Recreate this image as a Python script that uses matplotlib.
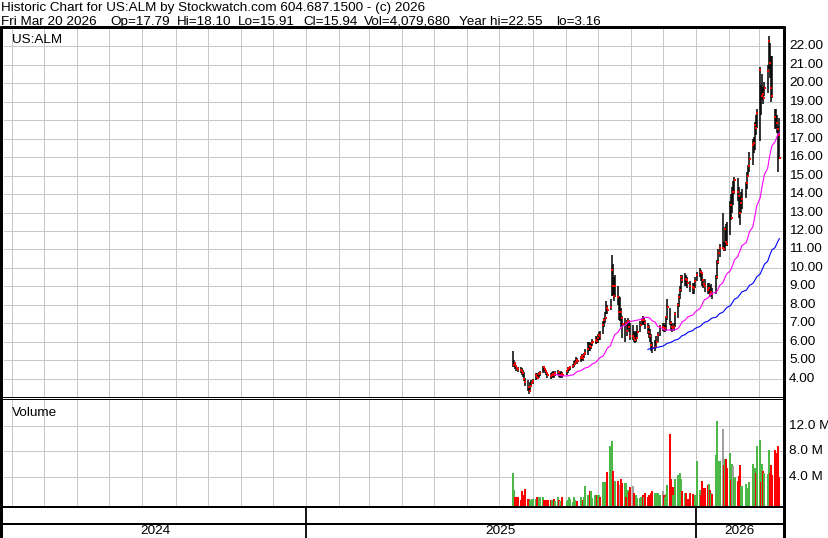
import numpy as np
import pandas as pd
import matplotlib
matplotlib.use("Agg")
import matplotlib.pyplot as plt
import matplotlib.dates as mdates
from matplotlib.lines import Line2D
from matplotlib.transforms import blended_transform_factory

# ---------------- data ----------------
symbol = "US:ALM"
title_line = "Historic Chart for US:ALM by Stockwatch.com 604.687.1500 - (c) 2026"
quote_items = ["Fri Mar 20 2026", "Op=17.79", "Hi=18.10", "Lo=15.91", "Cl=15.94",
               "Vol=4,079,680", "Year hi=22.55", "lo=3.16"]

first_day = "2025-07-14"
last_day = "2026-03-20"
holidays = ["2025-09-01", "2025-11-27", "2025-12-25", "2026-01-01", "2026-01-19", "2026-02-16"]

close = [
    4.74, 4.85, 4.70, 4.55, 4.50, 4.45, 4.40, 4.30, 4.00, 3.80, 3.55, 3.35, 3.60, 3.75,  # Jul
    3.85, 4.20, 4.10, 4.05, 4.25, 4.30, 4.60, 4.50, 4.40, 4.30, 4.20, 4.15, 4.20, 4.25,
    4.20, 4.30, 4.35, 4.20, 4.20, 4.25, 4.20,  # Aug
    4.40, 4.50, 4.55, 4.60, 4.70, 4.80, 4.90, 5.00, 4.95, 5.10, 5.20, 5.10, 5.30, 5.40,
    5.60, 5.75, 5.70, 5.90, 6.00, 6.10, 6.05,  # Sep
    6.20, 6.35, 6.30, 6.90, 7.15, 7.30, 7.80, 7.70, 7.90, 9.90, 9.00, 8.50, 9.00, 8.40,
    7.60, 7.60, 7.30, 6.95, 7.00, 6.60, 7.10, 6.80, 6.30,  # Oct
    6.30, 6.20, 6.10, 6.20, 6.50, 6.90, 7.20, 7.15, 7.20, 7.00, 6.80, 6.55, 6.30, 5.80,
    5.65, 5.70, 6.00, 6.35, 6.80,  # Nov
    6.80, 6.70, 6.75, 7.35, 7.90, 7.00, 6.80, 6.75, 6.80, 7.50, 8.00, 8.40, 8.80, 9.50,
    9.35, 9.40, 9.35, 9.20, 9.00, 8.95, 8.90, 9.30,  # Dec
    9.60, 9.80, 9.70, 9.35, 9.15, 9.00, 8.80, 8.90, 8.60, 8.70, 8.60, 9.50, 10.30, 10.80,
    11.10, 11.10, 11.00, 12.10, 11.40, 11.30,  # Jan
    13.40, 12.70, 14.10, 14.10, 14.75, 14.10, 13.90, 13.00, 13.50, 13.75, 14.60, 15.00,
    15.50, 15.90, 16.65, 16.75, 17.75, 17.60, 18.40,  # Feb
    20.75, 19.30, 19.40, 19.20, 19.75, 20.65, 22.30, 21.10, 19.75, 19.30, 18.20, 17.85,
    17.50, 17.20, 15.94,  # Mar
]
high = [
    5.52, 5.00, 4.90, 4.75, 4.65, 4.60, 4.55, 4.45, 4.35, 4.05, 3.90, 3.60, 3.80, 3.90,
    3.95, 4.30, 4.30, 4.20, 4.35, 4.40, 4.70, 4.70, 4.55, 4.45, 4.35, 4.30, 4.35, 4.40,
    4.35, 4.40, 4.45, 4.40, 4.35, 4.40, 4.35,
    4.45, 4.60, 4.65, 4.70, 4.80, 4.95, 5.00, 5.15, 5.10, 5.20, 5.35, 5.25, 5.40, 5.60,
    6.00, 6.00, 5.90, 6.00, 6.15, 6.30, 6.25,
    6.40, 6.50, 6.60, 7.10, 7.30, 7.60, 8.20, 8.00, 8.30, 10.70, 10.20, 9.50, 9.60, 9.00,
    8.50, 8.40, 7.80, 7.40, 7.30, 7.20, 7.30, 7.20, 7.00,
    6.90, 6.60, 6.50, 6.60, 6.90, 7.10, 7.30, 7.40, 7.30, 7.20, 7.00, 6.90, 6.70, 6.40,
    6.00, 6.10, 6.30, 6.50, 6.90,
    7.00, 7.00, 6.90, 7.40, 8.30, 7.80, 7.10, 7.00, 7.00, 7.60, 8.10, 8.60, 9.00, 9.60,
    9.60, 9.70, 9.60, 9.50, 9.30, 9.20, 9.20, 9.50,
    9.80, 10.00, 9.90, 9.70, 9.40, 9.40, 9.20, 9.20, 9.00, 9.10, 8.90, 9.60, 10.40, 11.00,
    11.30, 13.00, 11.40, 12.20, 12.40, 12.50,
    13.60, 14.00, 14.40, 14.70, 14.95, 14.85, 14.40, 13.90, 14.10, 14.30, 14.65, 15.20,
    15.60, 16.30, 17.00, 17.10, 17.90, 18.30, 18.60,
    20.90, 19.90, 20.50, 19.80, 20.10, 21.00, 22.55, 22.20, 21.50, 21.50, 18.60, 18.60,
    18.30, 17.70, 18.10,
]
low = [
    4.60, 4.60, 4.50, 4.40, 4.35, 4.30, 4.20, 4.10, 3.85, 3.60, 3.35, 3.16, 3.40, 3.55,
    3.70, 3.90, 4.00, 3.95, 4.05, 4.15, 4.30, 4.40, 4.30, 4.20, 4.05, 4.00, 4.05, 4.10,
    4.05, 4.15, 4.20, 4.10, 4.05, 4.10, 4.05,
    4.20, 4.30, 4.40, 4.45, 4.55, 4.65, 4.75, 4.85, 4.80, 4.90, 5.00, 4.95, 5.10, 5.25,
    5.30, 5.50, 5.50, 5.60, 5.75, 5.85, 5.90,
    5.90, 6.10, 6.10, 6.40, 6.80, 7.00, 7.50, 7.50, 7.70, 8.50, 8.50, 8.20, 8.40, 8.00,
    7.20, 7.10, 6.80, 6.20, 6.00, 6.30, 6.70, 6.50, 6.10,
    6.10, 6.00, 5.90, 6.00, 6.20, 6.50, 6.90, 6.90, 6.90, 6.70, 6.40, 6.20, 6.00, 5.50,
    5.40, 5.50, 5.70, 6.00, 6.30,
    6.60, 6.50, 6.50, 6.60, 7.20, 6.90, 6.60, 6.50, 6.60, 6.80, 7.30, 7.90, 8.30, 8.70,
    9.20, 9.00, 9.00, 8.90, 8.70, 8.60, 8.60, 8.90,
    9.30, 9.50, 9.30, 9.00, 8.90, 8.70, 8.60, 8.60, 8.40, 8.50, 8.30, 8.60, 9.40, 10.20,
    10.60, 11.00, 10.90, 10.90, 11.20, 11.20,
    11.80, 12.60, 13.00, 13.40, 14.00, 13.60, 12.70, 12.30, 13.00, 13.20, 13.80, 14.30,
    14.90, 15.20, 15.60, 16.20, 16.40, 17.20, 17.60,
    16.90, 18.30, 19.10, 18.90, 19.30, 19.50, 20.80, 20.30, 19.00, 19.20, 17.50, 17.60,
    17.30, 15.20, 15.91,
]
volume_m = [
    4.7, 2.1, 1.0, 0.65, 0.9, 0.45, 1.8, 1.3, 1.2, 2.2, 0.6, 0.65, 0.55, 0.55,
    0.7, 0.65, 1.0, 0.45, 0.9, 1.0, 0.9, 0.45, 0.1, 0.55, 0.45, 0.55, 0.45, 0.1, 0.65,
    0.3, 1.0, 0.55, 0.35, 0.25, 1.0,
    0.35, 0.55, 1.0, 0.65, 0.1, 1.0, 0.55, 0.35, 0.25, 1.0, 0.35, 0.55, 1.0, 2.7, 1.2,
    0.75, 1.8, 1.8, 0.75, 1.2, 1.2,
    1.2, 1.2, 1.0, 3.3, 2.4, 3.3, 2.5, 4.8, 8.8, 9.7, 4.9, 2.8, 3.5, 3.5, 0.9, 2.8, 3.7,
    3.1, 3.1, 1.0, 2.1, 1.7, 2.5,
    2.7, 1.5, 0.9, 1.2, 0.8, 0.8, 1.0, 1.2, 1.0, 1.6, 1.0, 1.3, 1.0, 1.5, 1.9, 1.5, 1.5,
    1.5, 1.2,
    1.9, 1.2, 1.0, 1.4, 2.8, 10.7, 3.7, 2.5, 1.2, 3.7, 4.3, 4.3, 4.6, 3.7, 1.9, 1.5, 1.5,
    0.7, 1.6, 1.4, 0.9, 1.2,
    6.5, 2.1, 1.2, 3.4, 2.4, 2.4, 2.8, 3.0, 2.1, 1.6, 1.4, 7.4, 12.8, 4.8, 6.6, 11.5, 5.9,
    6.9, 6.9, 5.4,
    7.7, 3.6, 6.0, 5.7, 4.1, 3.5, 4.2, 5.9, 2.6, 2.7, 3.0, 1.8, 2.3, 3.2, 6.0, 2.8, 5.5,
    4.6, 8.8,
    9.8, 3.2, 6.1, 5.0, 4.7, 4.5, 8.3, 4.7, 5.9, 4.4, 8.3, 7.8, 4.7, 8.8, 4.08,
]

price_ticks = list(range(4, 23))
volume_ticks = [4, 8, 12]
ma_short, ma_long = 30, 90
view_start, view_end = "2024-03-24 10:00", "2026-03-23 10:00"

# ---------------- figure ----------------
W, H = 829, 538
DPI = 100
FONT = "Liberation Sans"
FS = 9.7
GRID = "#c8c8c8"
GREEN = "#4cb848"
RED = "#ff0000"

dates = pd.bdate_range(first_day, last_day, freq="C", holidays=holidays)
n = min(len(dates), len(close))
dates = dates[:n]
xd = mdates.date2num(dates.to_pydatetime())
c = np.array(close[:n]); hi = np.array(high[:n]); lo = np.array(low[:n])
vol = np.array(volume_m[:n])

fig = plt.figure(figsize=(W / DPI, H / DPI), dpi=DPI)
fig.patch.set_facecolor("white")

def fx(px):
    return px / W

def fy(py):
    return 1 - py / H

L, R = 4, 783
ax_p = fig.add_axes([fx(L), fy(397), fx(R) - fx(L), fy(28) - fy(397)])
ax_v = fig.add_axes([fx(L), fy(506), fx(R) - fx(L), fy(400) - fy(506)])
ax_d = fig.add_axes([fx(L), fy(538), fx(R) - fx(L), fy(507) - fy(538)])

x0 = mdates.date2num(pd.Timestamp(view_start).to_pydatetime())
x1 = mdates.date2num(pd.Timestamp(view_end).to_pydatetime())
months = pd.date_range("2024-04-01", "2026-03-01", freq="MS")
mx = mdates.date2num(months.to_pydatetime())

for ax in (ax_p, ax_v, ax_d):
    ax.set_xlim(x0, x1)
    for s in ax.spines.values():
        s.set_visible(False)
    ax.tick_params(length=0, labelleft=False, labelbottom=False)
    ax.set_facecolor("white")
    ax.patch.set_alpha(0)

for ax in (ax_p, ax_v):
    ax.set_axisbelow(True)
    ax.set_xticks(mx)
    ax.grid(True, color=GRID, linewidth=1.0 * 72 / DPI)

ax_d.set_xticks([])
ax_d.set_yticks([])
ax_d.set_ylim(0, 1)

# price panel
ax_p.set_ylim(3, 23)
ax_p.set_yticks(price_ticks)
ax_p.vlines(xd, lo, hi, colors="black", linewidth=1.1)
ax_p.plot(xd + 0.35, c, linestyle="none", marker="s", markersize=1.8,
          markerfacecolor=RED, markeredgewidth=0)
cs = pd.Series(c)
ma1 = cs.rolling(ma_short).mean().values
ma2 = cs.rolling(ma_long).mean().values
ax_p.plot(xd, ma1, color="#ff00ff", linewidth=0.8)
ax_p.plot(xd, ma2, color="#0000ff", linewidth=0.8)

tr_p = blended_transform_factory(ax_p.transAxes, ax_p.transData)
lab_x = 1 + 6 / (R - L)
for t in price_ticks:
    ax_p.text(lab_x, t, f"{t:.2f}", transform=tr_p, va="center", ha="left",
              fontsize=FS, family=FONT, color="black", clip_on=False)
ax_p.text(8 / (R - L), 1 - 15 / 369, symbol, transform=ax_p.transAxes, va="baseline",
          ha="left", fontsize=FS, family=FONT, color="black")

# volume panel
vmin, vmax = -0.45, 15.98
ax_v.set_ylim(vmin, vmax)
ax_v.set_yticks(volume_ticks)
prev = np.concatenate([[c[0] - 1], c[:-1]])
colors = np.where(c > prev, GREEN, np.where(c < prev, RED, "#a0a0a0"))
ax_v.bar(xd, vol - vmin, bottom=vmin, width=2.0, color=colors, linewidth=0)
tr_v = blended_transform_factory(ax_v.transAxes, ax_v.transData)
for t in volume_ticks:
    ax_v.text(lab_x, t, f"{t:.1f} M", transform=tr_v, va="center", ha="left",
              fontsize=FS, family=FONT, color="black", clip_on=False)
ax_v.text(8 / (R - L), 1 - 16 / 106, "Volume", transform=ax_v.transAxes, va="baseline",
          ha="left", fontsize=FS, family=FONT, color="black")

# date strip: year separators and labels
years = [2024, 2025, 2026]
tr_d = blended_transform_factory(ax_d.transData, ax_d.transAxes)
for y in years[1:]:
    yx = mdates.date2num(pd.Timestamp(f"{y}-01-01").to_pydatetime())
    ax_d.plot([yx, yx], [0, 1], color="black", linewidth=1.3, transform=tr_d, clip_on=False)
for y in years:
    a = max(x0, mdates.date2num(pd.Timestamp(f"{y}-01-01").to_pydatetime()))
    b = min(x1, mdates.date2num(pd.Timestamp(f"{y + 1}-01-01").to_pydatetime()))
    ax_d.text((a + b) / 2, (538 - 531.5) / 31, str(y), transform=tr_d, ha="center",
              va="center", fontsize=FS, family=FONT, color="black")

# frame lines (pixel geometry of the stockwatch frame)
def hline(py, px0, px1, lw_px):
    fig.add_artist(Line2D([fx(px0), fx(px1)], [fy(py), fy(py)], transform=fig.transFigure,
                          color="black", linewidth=lw_px * 72 / DPI, solid_capstyle="butt"))

def vline(px, py0, py1, lw_px):
    fig.add_artist(Line2D([fx(px), fx(px)], [fy(py0), fy(py1)], transform=fig.transFigure,
                          color="black", linewidth=lw_px * 72 / DPI, solid_capstyle="butt"))

hline(27.3, 0, 785.5, 3)
vline(1.5, 26, 538, 3)
vline(784.2, 26, 538, 3)
hline(397, 0, 784, 1)
hline(399.3, 0, 784, 1)
hline(506.8, 0, 784, 2)
hline(523.5, 0, 784, 2)

# header
fig.text(fx(1), fy(11.5), title_line, ha="left", va="baseline", fontsize=FS, family=FONT)
quote_x = [1, 110, 177, 238, 303, 364, 459, 556]
for px, s in zip(quote_x, quote_items):
    fig.text(fx(px), fy(24.7), s, ha="left", va="baseline", fontsize=FS, family=FONT)

fig.savefig("out.png", dpi=DPI, facecolor="white")
